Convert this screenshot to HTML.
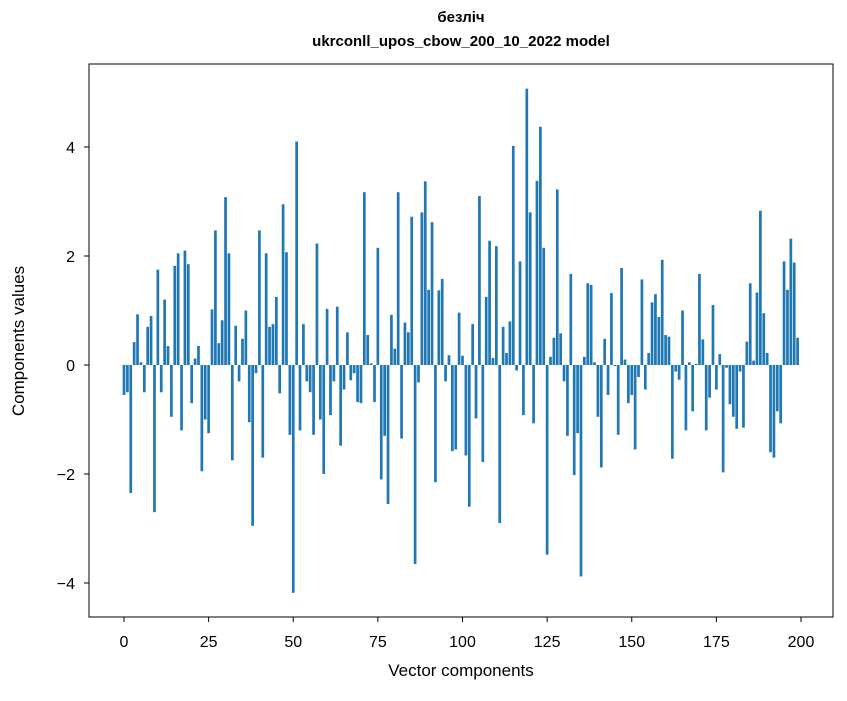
<!DOCTYPE html>
<html><head><meta charset="utf-8"><style>
body{margin:0;background:#fff;}
svg text{font-family:"Liberation Sans","DejaVu Sans",sans-serif;}
</style></head><body>
<svg id="chart" width="847" height="696" xmlns="http://www.w3.org/2000/svg">
<rect width="847" height="696" fill="#fff"/>
<text x="461" y="28" text-anchor="middle" font-size="15" font-weight="bold" dy="-6">безліч</text>
<text x="461" y="51" text-anchor="middle" font-size="15" font-weight="bold" dy="-5">ukrconll_upos_cbow_200_10_2022 model</text>
<g id="bars"></g>
<rect x="89" y="64" width="744" height="553" fill="none" stroke="#000" stroke-width="1"/>
<g id="xticks"></g>
<g id="yticks"></g>
<text x="461" y="676" text-anchor="middle" font-size="17">Vector components</text>
<text transform="translate(29,341) rotate(-90)" text-anchor="middle" font-size="17" dy="-5">Components values</text>
</svg>
<script>
const values=[-0.55,-0.5,-2.35,0.42,0.93,0.05,-0.5,0.7,0.9,-2.7,1.75,-0.5,1.2,0.35,-0.95,1.82,2.05,-1.2,2.1,1.85,
-0.7,0.12,0.35,-1.95,-1.0,-1.25,1.02,2.47,0.4,0.82,3.08,2.05,-1.75,0.72,-0.3,0.48,1.0,-1.05,-2.95,-0.15,
2.47,-1.7,2.05,0.7,0.75,1.25,-0.52,2.95,2.07,-1.28,-4.18,4.1,-1.2,0.75,-0.3,-0.5,-1.28,2.23,-1.0,-2.0,
1.03,-0.92,-0.3,1.07,-1.48,-0.45,0.6,-0.28,-0.15,-0.68,-0.7,3.17,0.55,0.03,-0.68,2.15,-2.1,-1.3,-2.55,0.92,
0.3,3.17,-1.35,0.78,0.6,2.72,-3.65,-0.32,2.8,3.37,1.38,2.62,-2.15,1.37,1.58,-0.3,0.18,-1.58,-1.55,0.96,
0.17,-1.66,-2.6,0.75,-0.98,3.1,-1.78,1.25,2.28,0.13,2.18,-2.9,0.7,0.22,0.8,4.02,-0.1,1.9,-0.92,5.07,
2.8,-1.07,3.38,4.37,2.15,-3.48,0.15,0.5,3.22,0.58,-0.3,-1.3,1.67,-2.02,-1.25,-3.88,0.15,1.5,1.47,0.05,
-0.95,-1.88,0.48,-0.55,1.32,-0.02,-1.28,1.78,0.1,-0.7,-0.55,-1.55,-0.22,1.57,-0.45,0.22,1.15,1.3,0.88,1.93,
0.55,0.52,-1.72,-0.12,-0.27,1.0,-1.2,0.05,-0.85,0.02,1.67,0.47,-1.2,-0.6,1.1,-0.45,0.2,-1.97,-0.05,-0.72,
-0.95,-1.17,-0.12,-1.15,0.43,1.5,0.08,1.33,2.83,0.95,0.22,-1.6,-1.7,-0.85,-1.07,1.9,1.38,2.32,1.88,0.5];
const xTicks=[0,25,50,75,100,125,150,175,200];
const yTicks=[-4,-2,0,2,4];
const yTickLabels=["\u22124","\u22122","0","2","4"];
const NS="http://www.w3.org/2000/svg";
const xs=v=>124+v*(801-124)/200;
const ys=v=>365-v*54.5;
const bars=document.getElementById('bars');
values.forEach((v,i)=>{
 const r=document.createElementNS(NS,'rect');
 const w=0.8*(801-124)/200;
 r.setAttribute('x',xs(i)-w/2);
 r.setAttribute('width',w);
 r.setAttribute('y',Math.min(ys(v),ys(0)));
 r.setAttribute('height',Math.abs(ys(v)-ys(0)));
 r.setAttribute('fill','#1f77b4');
 
 
 bars.appendChild(r);
});
const xg=document.getElementById('xticks');
xTicks.forEach(t=>{
 const l=document.createElementNS(NS,'line');
 l.setAttribute('x1',xs(t));l.setAttribute('x2',xs(t));l.setAttribute('y1',617);l.setAttribute('y2',622);l.setAttribute('stroke','#000');
 
 
 xg.appendChild(l);
 const tx=document.createElementNS(NS,'text');
 tx.setAttribute('x',xs(t));tx.setAttribute('y',647);tx.setAttribute('text-anchor','middle');tx.setAttribute('font-size','16');
 tx.textContent=t;
 
 
 xg.appendChild(tx);
});
const yg=document.getElementById('yticks');
yTicks.forEach((t,k)=>{
 const l=document.createElementNS(NS,'line');
 l.setAttribute('x1',84);l.setAttribute('x2',89);l.setAttribute('y1',ys(t));l.setAttribute('y2',ys(t));l.setAttribute('stroke','#000');
 
 
 yg.appendChild(l);
 const tx=document.createElementNS(NS,'text');
 tx.setAttribute('x',75);tx.setAttribute('y',ys(t)+6);tx.setAttribute('text-anchor','end');tx.setAttribute('font-size','16');
 tx.textContent=yTickLabels[k];
 
 
 yg.appendChild(tx);
});
</script>
</body></html>
